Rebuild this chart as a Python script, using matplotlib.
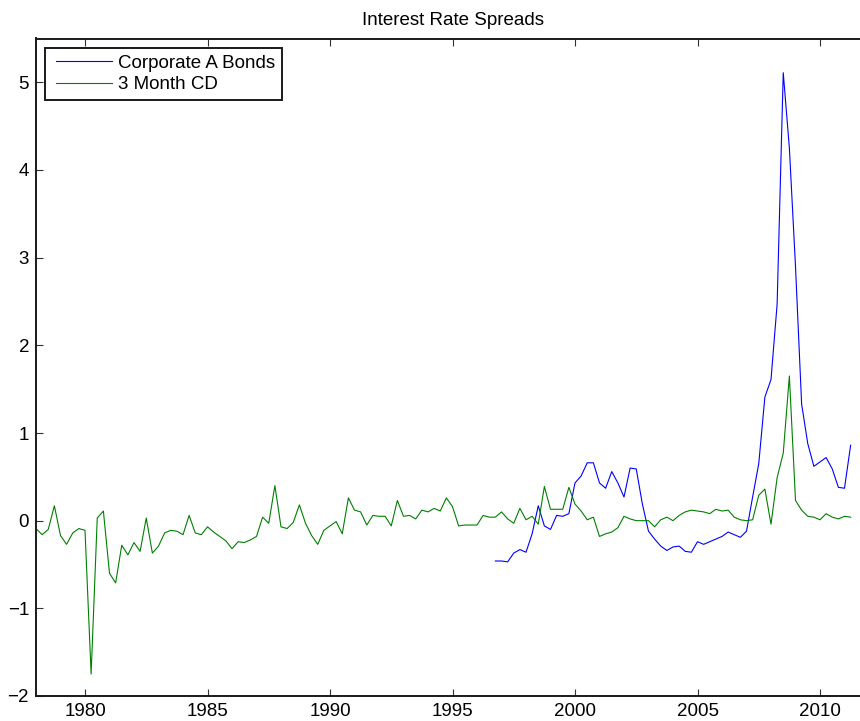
import numpy as np
import matplotlib
matplotlib.use("Agg")
import matplotlib.pyplot as plt
from matplotlib.legend_handler import HandlerLine2D

# ---- data (quarterly) ----
cd_start = 1978.0
cd_3m = [
    -0.09, -0.16, -0.10, 0.17,    # 1978
    -0.17, -0.27, -0.14, -0.09,   # 1979
    -0.11, -1.75, 0.03, 0.11,     # 1980
    -0.60, -0.71, -0.28, -0.39,   # 1981
    -0.25, -0.35, 0.03, -0.37,    # 1982
    -0.29, -0.14, -0.11, -0.12,   # 1983
    -0.16, 0.06, -0.14, -0.16,    # 1984
    -0.07, -0.13, -0.18, -0.23,   # 1985
    -0.32, -0.24, -0.25, -0.22,   # 1986
    -0.18, 0.04, -0.03, 0.40,     # 1987
    -0.07, -0.09, -0.02, 0.18,    # 1988
    -0.03, -0.17, -0.27, -0.11,   # 1989
    -0.06, -0.01, -0.15, 0.26,    # 1990
    0.12, 0.10, -0.05, 0.06,      # 1991
    0.05, 0.05, -0.06, 0.23,      # 1992
    0.05, 0.06, 0.02, 0.12,       # 1993
    0.10, 0.14, 0.11, 0.26,       # 1994
    0.16, -0.06, -0.05, -0.05,    # 1995
    -0.05, 0.06, 0.04, 0.04,      # 1996
    0.10, 0.02, -0.03, 0.14,      # 1997
    0.01, 0.05, -0.04, 0.39,      # 1998
    0.13, 0.13, 0.13, 0.38,       # 1999
    0.19, 0.11, 0.01, 0.04,       # 2000
    -0.18, -0.15, -0.13, -0.08,   # 2001
    0.05, 0.02, 0.00, 0.00,       # 2002
    0.00, -0.07, 0.01, 0.04,      # 2003
    0.00, 0.06, 0.10, 0.12,       # 2004
    0.11, 0.10, 0.08, 0.13,       # 2005
    0.11, 0.12, 0.04, 0.01,       # 2006
    0.00, 0.01, 0.29, 0.36,       # 2007
    -0.04, 0.49, 0.77, 1.65,      # 2008
    0.23, 0.12, 0.05, 0.04,       # 2009
    0.01, 0.08, 0.04, 0.02,       # 2010
    0.05, 0.04,                   # 2011
]

corp_start = 1996.75
corp_a = [
    -0.46,                        # 1996 Q4
    -0.46, -0.47, -0.37, -0.33,   # 1997
    -0.36, -0.15, 0.17, -0.06,    # 1998
    -0.10, 0.06, 0.05, 0.08,      # 1999
    0.43, 0.51, 0.66, 0.66,       # 2000
    0.43, 0.37, 0.56, 0.43,       # 2001
    0.27, 0.60, 0.59, 0.19,       # 2002
    -0.12, -0.21, -0.29, -0.34,   # 2003
    -0.30, -0.29, -0.35, -0.36,   # 2004
    -0.24, -0.27, -0.24, -0.21,   # 2005
    -0.18, -0.13, -0.16, -0.19,   # 2006
    -0.12, 0.27, 0.65, 1.41,      # 2007
    1.61, 2.47, 5.11, 4.25,       # 2008
    2.90, 1.33, 0.88, 0.62,       # 2009
    0.67, 0.72, 0.59, 0.38,       # 2010
    0.37, 0.86,                   # 2011
]

labels = ["Corporate A Bonds", "3 Month CD"]
title = "Interest Rate Spreads"
xticks = [1980, 1985, 1990, 1995, 2000, 2005, 2010]
yticks = [-2, -1, 0, 1, 2, 3, 4, 5]

x_cd = cd_start + 0.25 * np.arange(len(cd_3m))
x_corp = corp_start + 0.25 * np.arange(len(corp_a))

plt.rcParams['font.family'] = ['Liberation Sans', 'DejaVu Sans']


class InsetLineHandler(HandlerLine2D):
    """Legend line that starts a few points inside the handle box."""
    def __init__(self, inset=3.5, **kw):
        super().__init__(**kw)
        self.inset = inset

    def get_xdata(self, legend, xdescent, ydescent, width, height, fontsize):
        xd, xm = super().get_xdata(legend, xdescent, ydescent, width, height, fontsize)
        xd = np.linspace(-xdescent + self.inset, -xdescent + width, len(xd))
        return xd, xm


W, H = 860, 721
fig = plt.figure(figsize=(W / 100, H / 100), dpi=100)
left, right, top, bottom = 36, 869, 38.5, 696
ax = fig.add_axes([left / W, 1 - bottom / H, (right - left) / W, (bottom - top) / H])

l1, = ax.plot(x_corp, corp_a, color=(0, 0, 1), lw=0.8, label=labels[0])
l2, = ax.plot(x_cd, cd_3m, color=(0, 0.5, 0), lw=0.8, label=labels[1])

fs = 13.5
ax.set_xlim(1978, 2012)
ax.set_ylim(-2, 5.5)
ax.set_xticks(xticks)
ax.set_yticks(yticks)
ax.tick_params(direction='in', top=True, right=True, length=5, width=0.8,
               labelsize=fs, color='#333333')
ax.tick_params(axis='x', pad=5)
ax.tick_params(axis='y', pad=5)
for s in ax.spines.values():
    s.set_linewidth(1.4)
    s.set_color('#1a1a1a')

ax.set_title(title, fontsize=fs, pad=10)

hm = {l1: InsetLineHandler(inset=3.0), l2: InsetLineHandler(inset=3.0)}
leg = ax.legend(loc='upper left', bbox_to_anchor=(45 / W, 1 - 47.7 / H),
                bbox_transform=fig.transFigure, borderaxespad=0,
                fontsize=fs, fancybox=False, framealpha=1, edgecolor='#1a1a1a',
                handlelength=3.2, handletextpad=0.32, labelspacing=0.22,
                borderpad=0.38, handler_map=hm)
leg.get_frame().set_linewidth(1.4)

fig.savefig("out.png", dpi=100)
